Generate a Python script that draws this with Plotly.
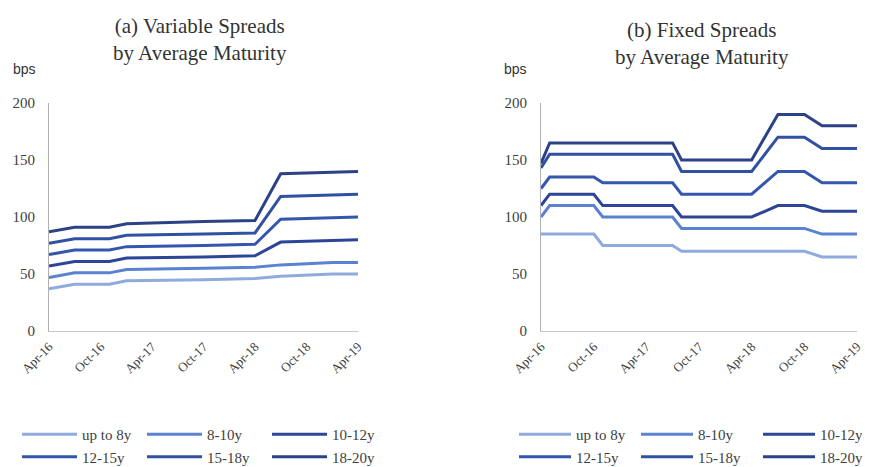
import plotly.graph_objects as go

# ---------------- data ----------------
series_names = ["up to 8y", "8-10y", "10-12y", "12-15y", "15-18y", "18-20y"]
series_colors = ["#8FAADC", "#5B82D1", "#2D4596", "#3456AC", "#3050A2", "#2C4286"]

var_dates = ["2016-04-01", "2016-07-01", "2016-11-01", "2017-01-01", "2017-10-01",
             "2018-04-01", "2018-07-01", "2019-01-01", "2019-04-01"]
var_up8 = [37, 41, 41, 44, 45, 46, 48, 50, 50]
var_8_10 = [47, 51, 51, 54, 55, 56, 58, 60, 60]
var_10_12 = [57, 61, 61, 64, 65, 66, 78, 79, 80]
var_12_15 = [67, 71, 71, 74, 75, 76, 98, 99, 100]
var_15_18 = [77, 81, 81, 84, 85, 86, 118, 119, 120]
var_18_20 = [87, 91, 91, 94, 96, 97, 138, 139, 140]

fix_dates = ["2016-04-01", "2016-05-01", "2016-10-01", "2016-11-01", "2017-07-01",
             "2017-08-01", "2018-04-01", "2018-07-01", "2018-10-01", "2018-12-01",
             "2019-04-01"]
fix_up8 = [85, 85, 85, 75, 75, 70, 70, 70, 70, 65, 65]
fix_8_10 = [100, 110, 110, 100, 100, 90, 90, 90, 90, 85, 85]
fix_10_12 = [110, 120, 120, 110, 110, 100, 100, 110, 110, 105, 105]
fix_12_15 = [125, 135, 135, 130, 130, 120, 120, 140, 140, 130, 130]
fix_15_18 = [143, 155, 155, 155, 155, 140, 140, 170, 170, 160, 160]
fix_18_20 = [147, 165, 165, 165, 165, 150, 150, 190, 190, 180, 180]

tick_dates = ["2016-04-01", "2016-10-01", "2017-04-01", "2017-10-01",
              "2018-04-01", "2018-10-01", "2019-04-01"]
tick_labels = ["Apr-16", "Oct-16", "Apr-17", "Oct-17", "Apr-18", "Oct-18", "Apr-19"]
y_ticks = [0, 50, 100, 150, 200]

var_series = [var_up8, var_8_10, var_10_12, var_12_15, var_15_18, var_18_20]
fix_series = [fix_up8, fix_8_10, fix_10_12, fix_12_15, fix_15_18, fix_18_20]
groups = ["c1", "c2", "c3", "c1", "c2", "c3"]

SERIF = "Liberation Serif, Times New Roman, serif"
SANS = "Liberation Sans, Arial, sans-serif"

fig = go.Figure()
for i, name in enumerate(series_names):
    fig.add_trace(go.Scatter(
        x=var_dates, y=var_series[i], mode="lines", name=name,
        line=dict(color=series_colors[i], width=3),
        xaxis="x", yaxis="y", legend="legend", legendgroup="a" + groups[i]))
for i, name in enumerate(series_names):
    fig.add_trace(go.Scatter(
        x=fix_dates, y=fix_series[i], mode="lines", name=name,
        line=dict(color=series_colors[i], width=3),
        xaxis="x2", yaxis="y2", legend="legend2", legendgroup="b" + groups[i]))

# page body has an 8px margin; work in window pixels and convert
OFF = 8
W, H = 870 - OFF, 467 - OFF


def X(px):
    return (px - OFF) / W


def Y(py):
    return 1 - (py - OFF) / H


ydom = [Y(331), Y(103)]

xcommon = dict(type="date", tickmode="array", tickvals=tick_dates, ticktext=tick_labels,
               tickangle=-45, showgrid=False, zeroline=False, showline=True,
               linecolor="#C8C8C8", linewidth=1, ticks="", ticklabelstandoff=2,
               tickfont=dict(family=SERIF, size=13, color="#404040"),
               range=["2016-04-01", "2019-04-01"], automargin=False)
ycommon = dict(range=[0, 200], tickvals=y_ticks, showgrid=False, zeroline=False,
               showline=True, linecolor="#B0B0B0", linewidth=1, ticks="",
               ticklabelstandoff=10,
               tickfont=dict(family=SERIF, size=15, color="#404040"), automargin=False)

legcommon = dict(orientation="h", traceorder="grouped", yanchor="top", xanchor="left",
                 font=dict(family=SERIF, size=15, color="#404040"),
                 bgcolor="rgba(0,0,0,0)", y=Y(418))

title_font = dict(family=SERIF, size=21, color="#333333")
bps_font = dict(family=SANS, size=14, color="#333333")

fig.update_layout(
    width=W, height=H, margin=dict(l=0, r=0, t=0, b=0, autoexpand=False),
    paper_bgcolor="white", plot_bgcolor="white", showlegend=True,
    xaxis=dict(domain=[X(49), X(358)], anchor="y", **xcommon),
    yaxis=dict(domain=ydom, anchor="x", **ycommon),
    xaxis2=dict(domain=[X(541), X(857)], anchor="y2", **xcommon),
    yaxis2=dict(domain=ydom, anchor="x2", **ycommon),
    legend=dict(x=X(17), entrywidth=55, itemwidth=55, **legcommon),
    legend2=dict(x=X(514), entrywidth=55, itemwidth=52, **legcommon),
    annotations=[
        dict(text="(a) Variable Spreads<br>by Average Maturity", x=X(200), y=Y(39),
             xanchor="center", yanchor="middle", xref="paper", yref="paper",
             showarrow=False, font=title_font),
        dict(text="(b) Fixed Spreads<br>by Average Maturity", x=X(702), y=Y(43),
             xanchor="center", yanchor="middle", xref="paper", yref="paper",
             showarrow=False, font=title_font),
        dict(text="bps", x=X(24), y=Y(69), xanchor="center", yanchor="middle",
             xref="paper", yref="paper", showarrow=False, font=bps_font),
        dict(text="bps", x=X(515.5), y=Y(69), xanchor="center", yanchor="middle",
             xref="paper", yref="paper", showarrow=False, font=bps_font),
    ],
)

fig.write_html("out.html")
